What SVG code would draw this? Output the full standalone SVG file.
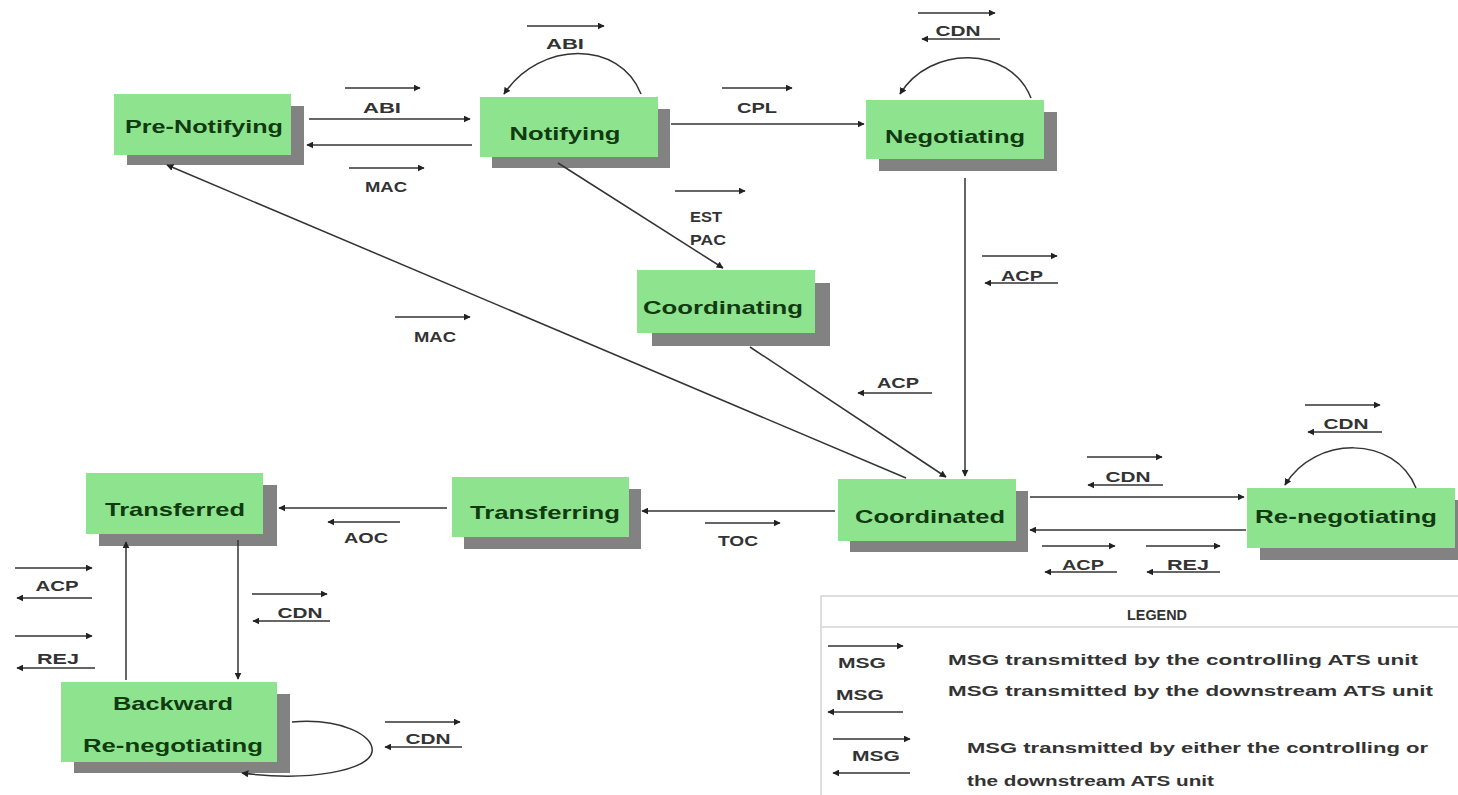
<svg xmlns="http://www.w3.org/2000/svg" width="1458" height="795" viewBox="0 0 1458 795">
<style>
.box{fill:#8ee48e}
.sh{fill:#828282}
.nt{font-family:"Liberation Sans",Arial,sans-serif;font-weight:bold;font-size:19px;fill:#113a11;text-anchor:middle}
.lt{font-family:"Liberation Sans",Arial,sans-serif;font-weight:bold;font-size:14px;fill:#333;text-anchor:middle}
.gt{font-family:"Liberation Sans",Arial,sans-serif;font-weight:bold;font-size:14px;fill:#333}
.c{fill:none;stroke:#333;stroke-width:1.5;marker-end:url(#ah)}
.m{fill:none;stroke:#333;stroke-width:1.4;marker-end:url(#sa)}
</style>
<defs>
<marker id="ah" viewBox="0 0 10 10" refX="9" refY="5" markerWidth="7" markerHeight="7" markerUnits="userSpaceOnUse" orient="auto"><path d="M0,0 L10,5 L0,10 z" fill="#222"/></marker>
<marker id="sa" viewBox="0 0 10 10" refX="9" refY="5" markerWidth="7" markerHeight="7" markerUnits="userSpaceOnUse" orient="auto"><path d="M0,0 L10,5 L0,10 z" fill="#222"/></marker>
</defs>
<rect width="1458" height="795" fill="#fff"/>

<g id="pre-notifying"><rect class="sh" x="127" y="106" width="177" height="59"/><rect class="box" x="114" y="94" width="177" height="61"/><text class="nt" x="204" y="133" textLength="158" lengthAdjust="spacingAndGlyphs">Pre-Notifying</text></g>
<g id="notifying"><rect class="sh" x="492" y="109" width="178" height="59"/><rect class="box" x="480" y="97" width="178" height="60"/><text class="nt" x="565" y="140" textLength="111" lengthAdjust="spacingAndGlyphs">Notifying</text></g>
<g id="negotiating"><rect class="sh" x="879" y="112" width="178" height="59"/><rect class="box" x="866" y="100" width="178" height="59"/><text class="nt" x="955" y="143" textLength="140" lengthAdjust="spacingAndGlyphs">Negotiating</text></g>
<g id="coordinating"><rect class="sh" x="652" y="283" width="178" height="63"/><rect class="box" x="637" y="270" width="178" height="63"/><text class="nt" x="723" y="314" textLength="160" lengthAdjust="spacingAndGlyphs">Coordinating</text></g>
<g id="coordinated"><rect class="sh" x="850" y="491" width="178" height="61"/><rect class="box" x="838" y="479" width="178" height="62"/><text class="nt" x="930" y="523" textLength="150" lengthAdjust="spacingAndGlyphs">Coordinated</text></g>
<g id="re-negotiating"><rect class="sh" x="1260" y="500" width="210" height="60"/><rect class="box" x="1247" y="488" width="208" height="60"/><text class="nt" x="1346" y="523" textLength="182" lengthAdjust="spacingAndGlyphs">Re-negotiating</text></g>
<g id="transferring"><rect class="sh" x="464" y="489" width="177" height="60"/><rect class="box" x="452" y="477" width="177" height="60"/><text class="nt" x="545" y="519" textLength="150" lengthAdjust="spacingAndGlyphs">Transferring</text></g>
<g id="transferred"><rect class="sh" x="99" y="485" width="178" height="61"/><rect class="box" x="86" y="473" width="177" height="61"/><text class="nt" x="175" y="516" textLength="140" lengthAdjust="spacingAndGlyphs">Transferred</text></g>
<g id="backward-re-negotiating"><rect class="sh" x="74" y="694" width="216" height="79"/><rect class="box" x="61" y="682" width="216" height="80"/><text class="nt" x="173" y="710" textLength="120" lengthAdjust="spacingAndGlyphs">Backward</text><text class="nt" x="173" y="752" textLength="180" lengthAdjust="spacingAndGlyphs">Re-negotiating</text></g>

<g id="connectors">
<path class="c" d="M309,119 L470,119"/>
<path class="c" d="M472,145 L307,145"/>
<path class="c" d="M641,94 C620,40 540,40 504,94"/>
<path class="c" d="M671,124 L864,124"/>
<path class="c" d="M1031,98 C1010,45 930,45 900,94"/>
<path class="c" d="M558,163 L723,268"/>
<path class="c" d="M965,178 L965,476"/>
<path class="c" d="M750,347 L946,477"/>
<path class="c" d="M906,478 L167,165"/>
<path class="c" d="M1030,497 L1244,497"/>
<path class="c" d="M1246,530 L1030,530"/>
<path class="c" d="M1416,488 C1395,435 1315,435 1285,485"/>
<path class="c" d="M835,511 L642,511"/>
<path class="c" d="M447,508 L279,508"/>
<path class="c" d="M238,540 L238,679"/>
<path class="c" d="M126,680 L126,542"/>
<path class="c" d="M292,722 C340,718 375,735 372,752 C369,770 310,782 242,773"/>
</g>

<g id="labels">
<path class="m" d="M527,26 L604,26"/><text class="lt" x="565" y="49" textLength="38" lengthAdjust="spacingAndGlyphs">ABI</text>
<path class="m" d="M345,88 L420,88"/><text class="lt" x="382" y="113" textLength="38" lengthAdjust="spacingAndGlyphs">ABI</text>
<path class="m" d="M349,168 L424,168"/><text class="lt" x="386" y="192" textLength="42" lengthAdjust="spacingAndGlyphs">MAC</text>
<path class="m" d="M722,88 L792,88"/><text class="lt" x="757" y="113" textLength="40" lengthAdjust="spacingAndGlyphs">CPL</text>
<path class="m" d="M918,13 L995,13"/><path class="m" d="M1000,39 L922,39"/><text class="lt" x="958" y="36" textLength="45" lengthAdjust="spacingAndGlyphs">CDN</text>
<path class="m" d="M675,191 L745,191"/><text class="lt" x="706" y="222" textLength="32" lengthAdjust="spacingAndGlyphs">EST</text><text class="lt" x="708" y="245" textLength="36" lengthAdjust="spacingAndGlyphs">PAC</text>
<path class="m" d="M395,317 L470,317"/><text class="lt" x="435" y="342" textLength="42" lengthAdjust="spacingAndGlyphs">MAC</text>
<path class="m" d="M932,393 L858,393"/><text class="lt" x="898" y="388" textLength="42" lengthAdjust="spacingAndGlyphs">ACP</text>
<path class="m" d="M982,256 L1057,256"/><path class="m" d="M1058,283 L985,283"/><text class="lt" x="1022" y="281" textLength="42" lengthAdjust="spacingAndGlyphs">ACP</text>
<path class="m" d="M1087,457 L1162,457"/><path class="m" d="M1163,485 L1088,485"/><text class="lt" x="1128" y="482" textLength="45" lengthAdjust="spacingAndGlyphs">CDN</text>
<path class="m" d="M1305,405 L1380,405"/><path class="m" d="M1382,432 L1308,432"/><text class="lt" x="1346" y="429" textLength="45" lengthAdjust="spacingAndGlyphs">CDN</text>
<path class="m" d="M1042,546 L1115,546"/><path class="m" d="M1117,572 L1045,572"/><text class="lt" x="1083" y="570" textLength="42" lengthAdjust="spacingAndGlyphs">ACP</text>
<path class="m" d="M1146,546 L1220,546"/><path class="m" d="M1220,572 L1147,572"/><text class="lt" x="1188" y="570" textLength="42" lengthAdjust="spacingAndGlyphs">REJ</text>
<path class="m" d="M705,523 L780,523"/><text class="lt" x="738" y="546" textLength="40" lengthAdjust="spacingAndGlyphs">TOC</text>
<path class="m" d="M400,522 L328,522"/><text class="lt" x="366" y="543" textLength="44" lengthAdjust="spacingAndGlyphs">AOC</text>
<path class="m" d="M15,568 L92,568"/><path class="m" d="M92,598 L17,598"/><text class="lt" x="57" y="591" textLength="43" lengthAdjust="spacingAndGlyphs">ACP</text>
<path class="m" d="M15,636 L92,636"/><path class="m" d="M95,668 L17,668"/><text class="lt" x="58" y="664" textLength="42" lengthAdjust="spacingAndGlyphs">REJ</text>
<path class="m" d="M252,594 L327,594"/><path class="m" d="M330,621 L253,621"/><text class="lt" x="300" y="618" textLength="45" lengthAdjust="spacingAndGlyphs">CDN</text>
<path class="m" d="M385,722 L460,722"/><path class="m" d="M462,747 L385,747"/><text class="lt" x="428" y="744" textLength="45" lengthAdjust="spacingAndGlyphs">CDN</text>
</g>

<g id="legend">
<rect x="821" y="596" width="650" height="210" fill="#fff" stroke="#d4d4d4" stroke-width="1.5"/>
<line x1="821" y1="627" x2="1458" y2="627" stroke="#d4d4d4" stroke-width="1.5"/>
<text class="lt" x="1157" y="620" textLength="60" lengthAdjust="spacingAndGlyphs">LEGEND</text>
<path class="m" d="M828,646 L903,646"/><text class="lt" x="862" y="668" textLength="48" lengthAdjust="spacingAndGlyphs">MSG</text>
<text class="gt" x="948" y="665" textLength="470" lengthAdjust="spacingAndGlyphs">MSG transmitted by the controlling ATS unit</text>
<text class="lt" x="860" y="700" textLength="48" lengthAdjust="spacingAndGlyphs">MSG</text><path class="m" d="M903,712 L828,712"/>
<text class="gt" x="948" y="696" textLength="485" lengthAdjust="spacingAndGlyphs">MSG transmitted by the downstream ATS unit</text>
<path class="m" d="M833,739 L910,739"/><text class="lt" x="876" y="761" textLength="48" lengthAdjust="spacingAndGlyphs">MSG</text><path class="m" d="M910,773 L833,773"/>
<text class="gt" x="967" y="753" textLength="461" lengthAdjust="spacingAndGlyphs">MSG transmitted by either  the controlling or</text>
<text class="gt" x="967" y="786" textLength="247" lengthAdjust="spacingAndGlyphs">the downstream ATS unit</text>
</g>
</svg>
